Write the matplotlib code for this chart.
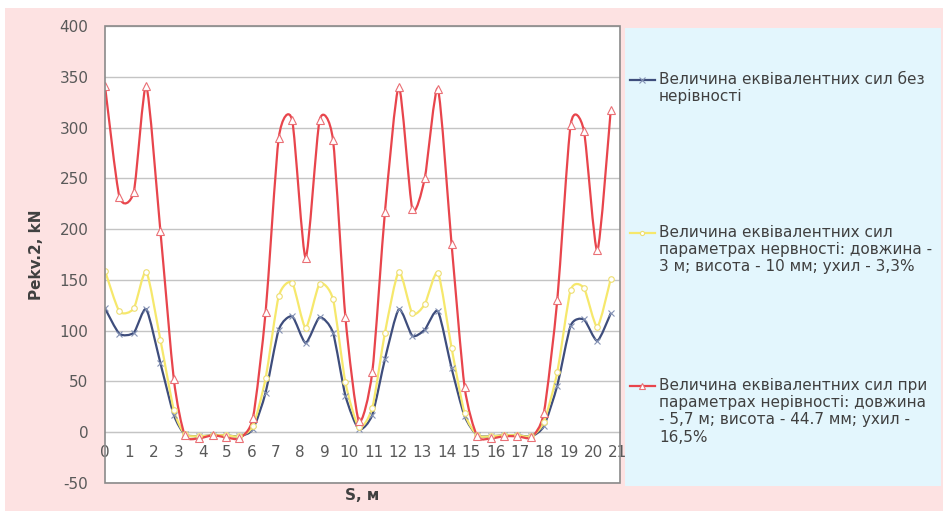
import numpy as np
import matplotlib
matplotlib.use('Agg')
import matplotlib.pyplot as plt
from matplotlib.path import Path
from matplotlib.patches import PathPatch, Rectangle
from matplotlib.lines import Line2D

plt.rcParams['axes.unicode_minus'] = False

# distance along the track, m
s = [0.0, 0.59, 1.18, 1.69, 2.27, 2.82, 3.27, 3.84, 4.42, 4.94,
     5.51, 6.06, 6.58, 7.12, 7.67, 8.22, 8.79, 9.34, 9.85, 10.4,
     10.95, 11.47, 12.04, 12.59, 13.1, 13.64, 14.2, 14.73, 15.25, 15.83,
     16.34, 16.89, 17.47, 17.98, 18.53, 19.08, 19.62, 20.17, 20.72]

# equivalent forces, kN
no_bump = [122, 97, 98, 121, 68, 17, -2, -4, -3, -3,
           -4, 3, 39, 101, 114, 88, 113, 98, 36, 3,
           17, 72, 121, 95, 101, 119, 63, 16, -3, -4,
           -3, -3, -4, 6, 46, 105, 111, 90, 117]
bump_small = [159, 119, 122, 158, 91, 22, -2, -4, -3, -3,
              -4, 6, 53, 134, 147, 103, 146, 131, 49, 5,
              24, 98, 158, 117, 126, 157, 83, 19, -3, -4,
              -3, -3, -4, 10, 59, 140, 142, 104, 151]
bump_big = [341, 232, 237, 341, 198, 52, -3, -6, -3, -5,
            -6, 14, 118, 290, 307, 172, 307, 288, 113, 11,
            59, 217, 340, 220, 250, 338, 185, 45, -4, -6,
            -4, -4, -5, 19, 130, 303, 297, 179, 317]

labels = [
    "Величина еквівалентних сил без\nнерівності",
    "Величина еквівалентних сил\nпараметрах нервності: довжина -\n3 м; висота - 10 мм; ухил - 3,3%",
    "Величина еквівалентних сил при\nпараметрах нерівності: довжина\n- 5,7 м; висота - 44.7 мм; ухил -\n16,5%",
]

PINK = '#fde2e2'
BLUE_BG = '#e3f6fd'
TXT = '#404040'


def smooth_path(x, y, k=9.0):
    # smoothed line like excel: cardinal spline segments as cubic beziers
    pts = np.column_stack([x, y]).astype(float)
    n = len(pts)
    verts = [pts[0]]
    codes = [Path.MOVETO]
    for i in range(n - 1):
        p0 = pts[i - 1] if i > 0 else pts[i]
        p1, p2 = pts[i], pts[i + 1]
        p3 = pts[i + 2] if i + 2 < n else pts[i + 1]
        verts += [p1 + (p2 - p0) / k, p2 - (p3 - p1) / k, p2]
        codes += [Path.CURVE4] * 3
    return Path(verts, codes)


fig = plt.figure(figsize=(9.43, 5.21), dpi=100, facecolor='white')
fig.add_artist(Rectangle((5 / 943, 1 - 511 / 521), 938 / 943, 503 / 521,
                         transform=fig.transFigure, facecolor=PINK,
                         edgecolor='none', zorder=-10))
fig.add_artist(Rectangle((625 / 943, 1 - 486 / 521), 316 / 943, 458 / 521,
                         transform=fig.transFigure, facecolor=BLUE_BG,
                         edgecolor='none', zorder=-9))

ax = fig.add_axes([105 / 943, 1 - 483 / 521, 515 / 943, 457 / 521])
ax.set_facecolor('white')

series = [
    (no_bump, '#3e4d7c', dict(marker='x', ms=5, mew=0.8, mec='#8492b4', mfc='none')),
    (bump_small, '#f6e86c', dict(marker='o', ms=4, mew=0.8, mec='#eede70', mfc='white')),
    (bump_big, '#e8454c', dict(marker='^', ms=6, mew=0.8, mec='#ea7076', mfc='white')),
]
for vals, col, mk in series:
    ax.add_patch(PathPatch(smooth_path(s, vals), facecolor='none',
                           edgecolor=col, lw=1.6, zorder=3))
    ax.plot(s, vals, linestyle='none', zorder=4, **mk)

ax.set_xlim(0, 21.1)
ax.set_ylim(-50, 400)
ax.set_xticks(range(0, 22))
ax.set_yticks(range(-50, 401, 50))
ax.yaxis.grid(True, color='#c4c4c4', lw=1)
ax.set_axisbelow(True)

# horizontal axis crosses at zero, labels sit inside the plot box
ax.spines['bottom'].set_position(('data', 0))
ax.spines['bottom'].set_color('#c4c4c4')
for side in ['top', 'right', 'left']:
    ax.spines[side].set_visible(False)
ax.add_patch(Rectangle((0, 0), 1, 1, transform=ax.transAxes, fill=False,
                       edgecolor='#8a8a8a', lw=1.2, clip_on=False, zorder=5))

ax.tick_params(axis='both', length=0, labelsize=11, labelcolor='#595959')
ax.tick_params(axis='y', pad=12)
ax.tick_params(axis='x', pad=9)

ax.set_ylabel('Pekv.2, kN', fontsize=11, fontweight='bold', color=TXT)
ax.yaxis.set_label_coords(-0.118, 0.5)
ax.set_xlabel('S, м', fontsize=11, fontweight='bold', color=TXT)
ax.xaxis.set_label_coords(0.5, -0.012)

# legend on the right, drawn by hand so the marker sits on the first line
leg_y = [80, 233, 386]
for (vals, col, mk), lab, yp in zip(series, labels, leg_y):
    yf = 1 - yp / 521
    fig.add_artist(Line2D([630 / 943, 642 / 943, 655 / 943], [yf, yf, yf],
                          transform=fig.transFigure, color=col, lw=1.6,
                          markevery=[1], **{**mk, 'ms': mk['ms'] - 1}))
    fig.text(659 / 943, yf + 8 / 521, lab, fontsize=11, color=TXT, va='top',
             ha='left', linespacing=1.18, transform=fig.transFigure)

fig.savefig('out.png', dpi=100, facecolor=fig.get_facecolor())
